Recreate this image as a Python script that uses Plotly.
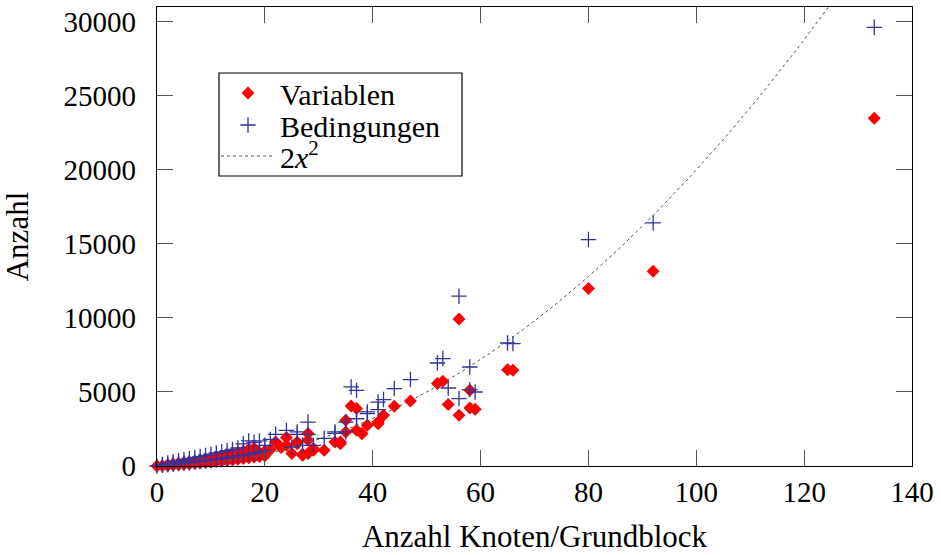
import numpy as np
import plotly.graph_objects as go

# Variablen (x = Anzahl Knoten/Grundblock, y = Anzahl)
var_x = [0, 1, 2, 2, 3, 3, 4, 4, 5, 5, 6, 6, 7, 7, 8, 8, 9, 9, 10, 10, 11, 11, 12, 12,
         13, 13, 14, 14, 15, 15, 16, 16, 17, 17, 18, 18, 19, 19, 20, 20, 21,
         22, 23, 24, 24, 25, 26, 26, 27, 27, 28, 28, 28, 29, 29, 31, 33, 34, 34,
         35, 35, 36, 37, 37, 38, 38, 39, 41, 41, 42, 44, 47, 52, 53, 54, 56, 56,
         58, 58, 59, 65, 66, 80, 92, 133]
var_y = [0, 20, 40, 90, 60, 130, 90, 180, 110, 230, 140, 280, 170, 340, 200, 400, 230, 460,
         260, 520, 300, 600, 330, 680, 370, 760, 400, 850, 450, 930, 500, 1000, 550, 1100,
         600, 1200, 650, 900, 700, 1000, 1100,
         1620, 1250, 1920, 1400, 840, 1620, 1510, 790, 720, 2190, 1740, 840, 1060, 1180,
         1060, 1620, 1620, 1510, 2300, 3090, 4050, 3880, 2410, 2190, 2190, 2750, 2970,
         2860, 3430, 4030, 4390, 5570, 5720, 4150, 3430, 9930, 5120, 3920, 3830, 6510,
         6470, 11990, 13160, 23490]

# Bedingungen
bed_x = [0, 1, 1, 2, 2, 3, 3, 4, 4, 5, 5, 6, 6, 7, 7, 8, 8, 9, 9, 10, 10, 11, 11, 12, 12,
         13, 13, 14, 14, 15, 15, 16, 16, 17, 17, 18, 18, 19, 19, 20, 20, 21,
         22, 24, 25, 26, 26, 27, 28, 28, 29, 31, 33, 33, 35, 35, 36, 37, 37, 37, 39, 39,
         41, 41, 42, 44, 47, 52, 53, 54, 56, 56, 58, 58, 59, 65, 66, 80, 92, 133]
bed_y = [0, 50, 100, 80, 200, 120, 280, 160, 360, 200, 430, 240, 500, 290, 570, 330, 640,
         380, 720, 420, 800, 470, 880, 520, 960, 570, 1040, 620, 1120, 680, 1220, 740, 1500,
         800, 1700, 860, 1600, 950, 1700, 1050, 1400, 1800,
         2140, 2410, 1280, 2140, 2300, 1400, 2970, 2140, 1400, 1870, 2210, 2300, 2970,
         2300, 5340, 5110, 3200, 3200, 3540, 3650, 3810, 4320, 4490, 5230, 5840, 6960,
         7260, 5270, 4550, 11470, 6690, 5160, 5000, 8310, 8270, 15300, 16420, 29640]

x_range = [0, 140]
y_range = [0, 31010]
x_ticks = [0, 20, 40, 60, 80, 100, 120, 140]
y_ticks = [0, 5000, 10000, 15000, 20000, 25000, 30000]

FONT = "Liberation Serif, DejaVu Serif, serif"
TICK_SIZE = 29
TITLE_SIZE = 31
LEG_SIZE = 30

fx = np.linspace(0, np.sqrt(y_range[1] / 2), 300)
fy = 2 * fx ** 2

fig = go.Figure()
fig.add_trace(go.Scatter(
    x=var_x, y=var_y, mode="markers", name="Variablen", legend="legend",
    marker=dict(symbol="diamond", size=10, color="#ff0000", line=dict(width=0)),
    cliponaxis=False))
fig.add_trace(go.Scatter(
    x=bed_x, y=bed_y, mode="markers", name="Bedingungen", legend="legend2",
    marker=dict(symbol="cross-thin", size=11, color="#33339a",
                line=dict(width=1.3, color="#33339a")),
    cliponaxis=False))
fig.add_trace(go.Scatter(
    x=fx, y=fy, mode="lines", name="2<i>x</i><sup>2</sup>", legend="legend3",
    line=dict(color="#555555", width=1, dash="dot")))

axis_common = dict(
    showgrid=False, zeroline=False, showline=True, linecolor="black", linewidth=1.3,
    mirror="allticks", ticks="inside", ticklen=16, tickcolor="#555555", tickwidth=1.2,
    tickfont=dict(family=FONT, size=TICK_SIZE, color="black"), automargin=False,
)

# plot area in pixels: x 157..912, y 7..466
PL, PR, PT, PB = 157, 912, 7, 466
pw, ph = PR - PL, PB - PT

def px_x(p):
    return (p - PL) / pw

def px_y(p):
    return (PB - p) / ph

leg_common = dict(xanchor="left", yanchor="middle", borderwidth=0, bgcolor="rgba(0,0,0,0)",
                  font=dict(family=FONT, size=LEG_SIZE, color="black"), itemwidth=54)

fig.update_layout(
    width=941, height=555,
    margin=dict(l=PL, r=941 - PR, t=PT, b=555 - PB),
    paper_bgcolor="white", plot_bgcolor="white",
    font=dict(family=FONT, size=TICK_SIZE, color="black"),
    showlegend=True,
    legend=dict(x=px_x(216), y=px_y(93), **leg_common),
    legend2=dict(x=px_x(216), y=px_y(125), **leg_common),
    legend3=dict(x=px_x(216), y=px_y(156), **leg_common),
    shapes=[dict(type="rect", xref="paper", yref="paper",
                 x0=px_x(219), x1=px_x(462), y0=px_y(176), y1=px_y(73),
                 line=dict(color="black", width=1.2), fillcolor="rgba(0,0,0,0)", layer="below")],
    xaxis=dict(range=x_range, tickvals=x_ticks, ticktext=[str(v) for v in x_ticks],
               ticklabelstandoff=0, **axis_common,
               title=dict(text="Anzahl Knoten/Grundblock",
                          font=dict(family=FONT, size=TITLE_SIZE), standoff=18)),
    yaxis=dict(range=y_range, tickvals=y_ticks, ticktext=[str(v) for v in y_ticks],
               ticklabelstandoff=14, **axis_common,
               title=dict(text="Anzahl", font=dict(family=FONT, size=TITLE_SIZE), standoff=28)),
)

fig.write_html("out.html", config={"displayModeBar": False},
               post_script="document.body.style.margin='0px';")
